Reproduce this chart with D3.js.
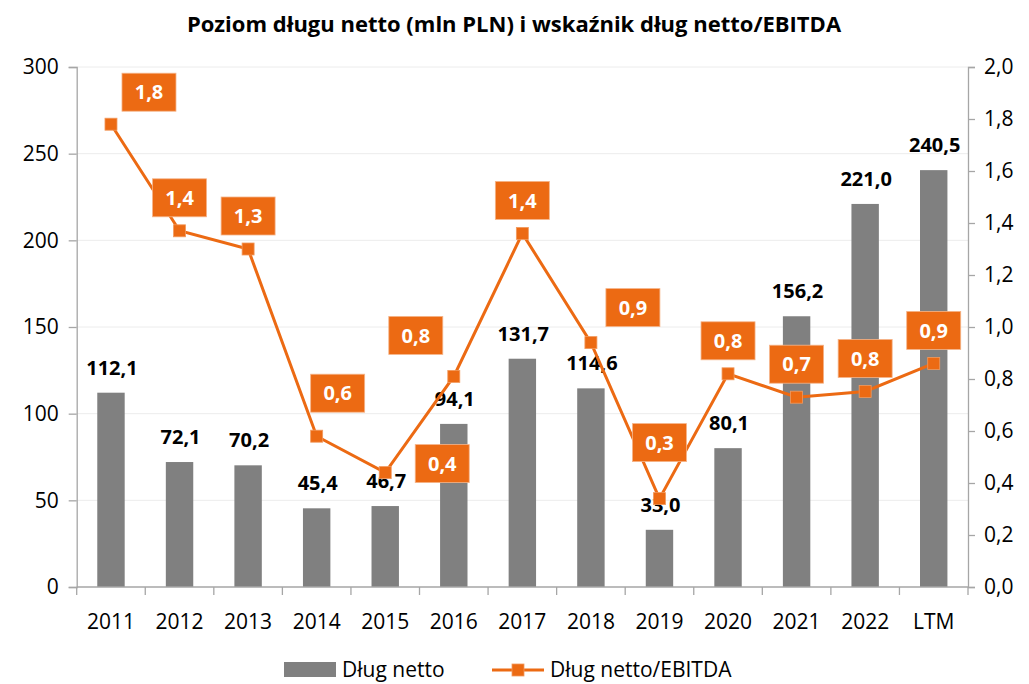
<!DOCTYPE html>
<html>
<head>
<meta charset="utf-8">
<script src="https://cdn.jsdelivr.net/npm/d3@7"></script>
<style>
  body { margin: 0; background: #fff; }
  svg { display: block; font-family: "Open Sans", sans-serif; }
</style>
</head>
<body>
<svg id="svg" width="1029" height="684"></svg>
<script>
// DATA //
const categories = ["2011", "2012", "2013", "2014", "2015", "2016", "2017", "2018", "2019", "2020", "2021", "2022", "LTM"];
const debt = [112.1, 72.1, 70.2, 45.4, 46.7, 94.1, 131.7, 114.6, 33.0, 80.1, 156.2, 221.0, 240.5];
const ratio = [1.78, 1.37, 1.30, 0.58, 0.44, 0.81, 1.36, 0.94, 0.34, 0.82, 0.73, 0.752, 0.86];
const leftTicks = [0, 50, 100, 150, 200, 250, 300];
const rightTicks = [0, 0.2, 0.4, 0.6, 0.8, 1.0, 1.2, 1.4, 1.6, 1.8, 2.0];

// label nudges for the ratio boxes (dx, dy from marker), set by hand like in the source chart
const boxNudge = [[38, -32], [0, -33], [0, -33], [21, -43], [57, -9], [-38, -41], [0, -33],
                  [42, -35], [0, -56], [0, -33], [0, -33], [0, -33], [0, -33]];

const orange = "#ec6a13";
const grey = "#808080";
const axisColor = "#a6a6a6";

// Plot area
const plotLeft = 76.7, plotRight = 968, plotTop = 67, plotBottom = 587;

const svg = d3.select("#svg");

const x = d3.scaleBand()
  .domain(categories)
  .range([plotLeft, plotRight])
  .paddingInner(0.6)
  .paddingOuter(0.3);

const yL = d3.scaleLinear().domain([0, 300]).range([plotBottom, plotTop]);
const yR = d3.scaleLinear().domain([0, 2]).range([plotBottom, plotTop]);

const comma = (f) => (v) => d3.format(f)(v).replace(".", ",");

// Title
svg.append("text")
  .attr("x", 514)
  .attr("y", 32)
  .attr("text-anchor", "middle")
  .style("font-weight", "bold")
  .style("font-size", "22px")
  .text("Poziom długu netto (mln PLN) i wskaźnik dług netto/EBITDA");

// Gridlines
svg.append("g")
  .selectAll("line")
  .data(leftTicks.filter(d => d > 0))
  .enter()
  .append("line")
  .attr("x1", plotLeft)
  .attr("x2", plotRight)
  .attr("y1", d => yL(d))
  .attr("y2", d => yL(d))
  .attr("stroke", "#ececec")
  .attr("stroke-width", 1);

// Left axis
const axL = svg.append("g")
  .attr("transform", `translate(${plotLeft},0)`)
  .call(d3.axisLeft(yL).tickValues(leftTicks).tickSize(8).tickPadding(10).tickFormat(d3.format("d")));

// Right axis
const axR = svg.append("g")
  .attr("transform", `translate(${plotRight},0)`)
  .call(d3.axisRight(yR).tickValues(rightTicks).tickSize(7).tickPadding(9).tickFormat(comma(".1f")));

[axL, axR].forEach(a => {
  a.select(".domain").attr("stroke", axisColor).attr("stroke-width", 1.3);
  a.selectAll(".tick line").attr("stroke", axisColor).attr("stroke-width", 1.3);
  a.selectAll("text").style("font-size", "21px").style("font-family", "Open Sans").attr("fill", "#000");
});

// Bars
svg.append("g")
  .selectAll("rect")
  .data(debt)
  .enter()
  .append("rect")
  .attr("x", (d, i) => x(categories[i]))
  .attr("y", d => yL(d))
  .attr("width", x.bandwidth())
  .attr("height", d => yL(0) - yL(d))
  .attr("fill", grey);

// Bottom axis: ticks at category boundaries
const bounds = categories.map(c => x(c) - x.step() * x.paddingInner() / 2).concat([plotRight]);
svg.append("line")
  .attr("x1", plotLeft).attr("x2", plotRight)
  .attr("y1", plotBottom).attr("y2", plotBottom)
  .attr("stroke", axisColor).attr("stroke-width", 1.3);
svg.append("g")
  .selectAll("line")
  .data(bounds)
  .enter()
  .append("line")
  .attr("x1", d => d).attr("x2", d => d)
  .attr("y1", plotBottom).attr("y2", plotBottom + 8)
  .attr("stroke", axisColor).attr("stroke-width", 1.3);
svg.append("g")
  .selectAll("text")
  .data(categories)
  .enter()
  .append("text")
  .attr("x", d => x(d) + x.bandwidth() / 2)
  .attr("y", 629)
  .attr("text-anchor", "middle")
  .style("font-size", "21px")
  .text(d => d);

// Bar value labels
svg.append("g")
  .selectAll("text")
  .data(debt)
  .enter()
  .append("text")
  .attr("x", (d, i) => x(categories[i]) + x.bandwidth() / 2 + 1)
  .attr("y", d => yL(d) - 25)
  .attr("dy", "0.35em")
  .attr("text-anchor", "middle")
  .style("font-weight", "bold")
  .style("font-size", "20px")
  .text(comma(".1f"));

// Ratio line
const cx = (i) => x(categories[i]) + x.bandwidth() / 2;
const line = d3.line()
  .x((d, i) => cx(i))
  .y(d => yR(d));

svg.append("path")
  .datum(ratio)
  .attr("d", line)
  .attr("fill", "none")
  .attr("stroke", orange)
  .attr("stroke-width", 3);

svg.append("g")
  .selectAll("rect")
  .data(ratio)
  .enter()
  .append("rect")
  .attr("x", (d, i) => cx(i) - 6)
  .attr("y", d => yR(d) - 6)
  .attr("width", 12)
  .attr("height", 12)
  .attr("fill", orange)
  .attr("stroke", "#f29a5e")
  .attr("stroke-width", 0.8);

// Ratio labels in boxes
const boxes = svg.append("g")
  .selectAll("g")
  .data(ratio)
  .enter()
  .append("g")
  .attr("transform", (d, i) => `translate(${cx(i) + boxNudge[i][0]},${yR(d) + boxNudge[i][1]})`);

boxes.append("rect")
  .attr("x", -27)
  .attr("y", -19)
  .attr("width", 54)
  .attr("height", 38)
  .attr("fill", orange)
  .attr("stroke", "#f5b489")
  .attr("stroke-width", 0.8);

boxes.append("text")
  .attr("dy", "0.36em")
  .attr("text-anchor", "middle")
  .attr("fill", "#fff")
  .style("font-weight", "bold")
  .style("font-size", "20px")
  .text(comma(".1f"));

// Legend
const legend = svg.append("g").attr("class", "legend");

legend.append("rect")
  .attr("x", 284)
  .attr("y", 662)
  .attr("width", 52)
  .attr("height", 15)
  .attr("fill", grey);

legend.append("text")
  .attr("x", 342)
  .attr("y", 677)
  .style("font-size", "21px")
  .text("Dług netto");

legend.append("line")
  .attr("x1", 492).attr("x2", 544)
  .attr("y1", 670).attr("y2", 670)
  .attr("stroke", orange)
  .attr("stroke-width", 3);

legend.append("rect")
  .attr("x", 512).attr("y", 664)
  .attr("width", 12).attr("height", 12)
  .attr("fill", orange)
  .attr("stroke", "#f29a5e")
  .attr("stroke-width", 0.8);

legend.append("text")
  .attr("x", 550)
  .attr("y", 677)
  .style("font-size", "21px")
  .text("Dług netto/EBITDA");
</script>
</body>
</html>
